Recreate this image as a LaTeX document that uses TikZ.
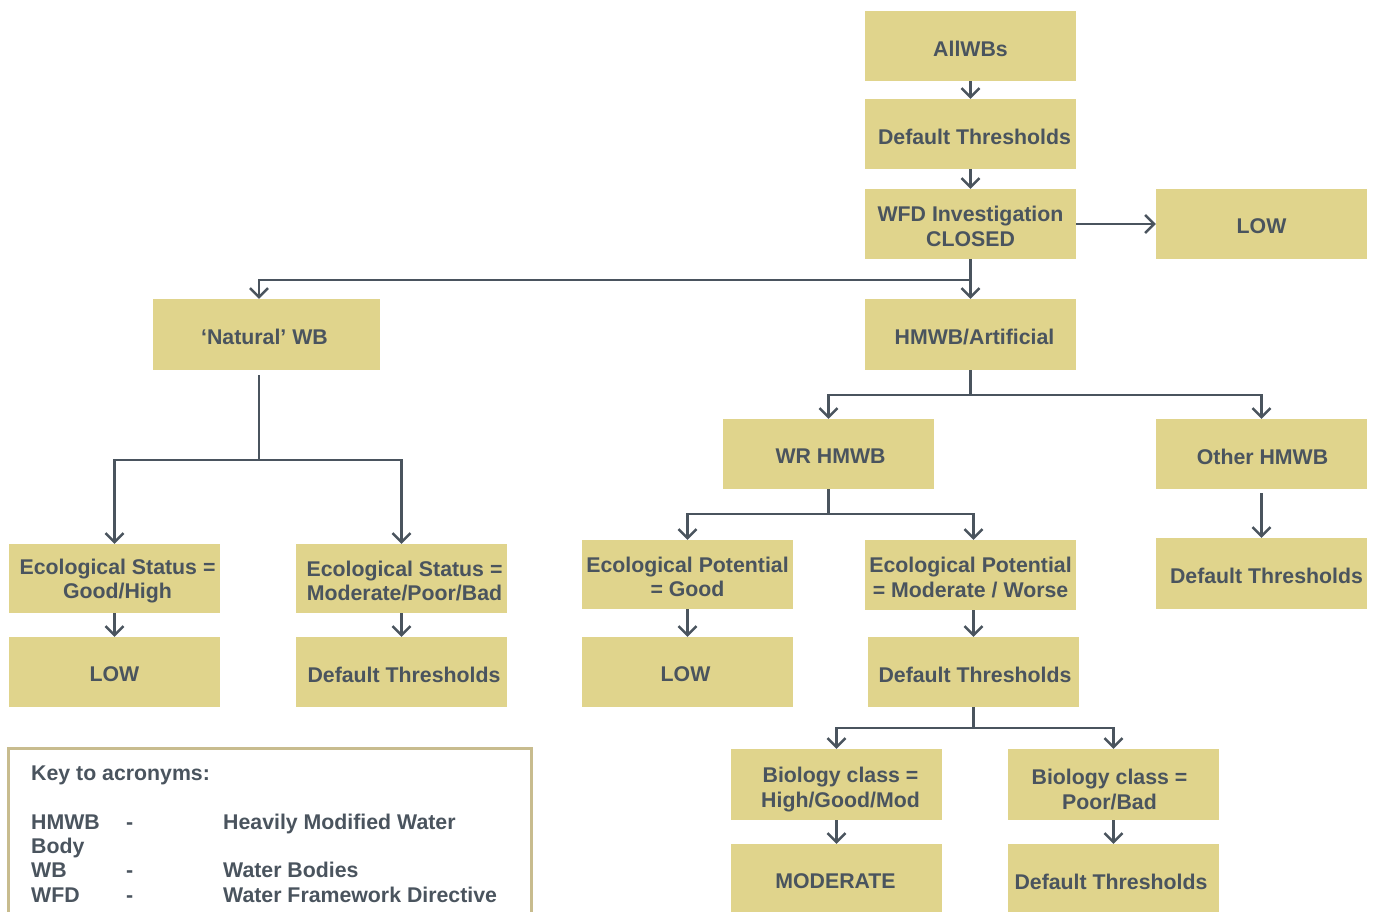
\documentclass[tikz,border=0pt]{standalone}
\usepackage{fontspec}
\setmainfont{Liberation Sans}
\usetikzlibrary{arrows.meta}
\definecolor{boxfill}{RGB}{224,212,140}
\definecolor{ink}{RGB}{74,84,94}
\definecolor{keyline}{RGB}{200,188,142}
\begin{document}
\begin{tikzpicture}[x=1pt,y=-1pt,
  box/.style={fill=boxfill, draw=none, minimum width=211pt, minimum height=70pt, inner sep=0pt},
  bt/.style={inner sep=0pt, align=center, text=ink, yshift=-2.5pt,
    font=\fontsize{21.3}{24.5}\selectfont\bfseries},
  conn/.style={draw=ink, line width=2.5pt},
  arr/.style={conn, -{Straight Barb[length=9pt,width=18pt]}},
  keytext/.style={anchor=base west, inner sep=0pt, text=ink, font=\fontsize{21.3}{24.5}\selectfont\bfseries}
]
\useasboundingbox (0,0) rectangle (1373,911);

% nodes
\node[box, label={[bt]center:AllWBs}] (all) at (970.5,46) {};
\node[box, label={[bt,xshift=4pt]center:Default Thresholds}] (dt1) at (970.5,134) {};
\node[box, label={[bt]center:{WFD Investigation\\CLOSED}}] (wfd) at (970.5,224) {};
\node[box, label={[bt]center:LOW}] (low1) at (1261.5,224) {};
\node[box, minimum width=227pt, minimum height=71pt, label={[bt,xshift=-2pt]center:‘Natural’ WB}] (nat) at (266.5,334.5) {};
\node[box, minimum height=71pt, label={[bt,xshift=4pt]center:HMWB/Artificial}] (hmwb) at (970.5,334.5) {};
\node[box, label={[bt,xshift=2pt]center:WR HMWB}] (wr) at (828.5,454) {};
\node[box, label={[bt,xshift=1pt]center:Other HMWB}] (other) at (1261.5,454) {};
\node[box, minimum height=69pt, label={[bt,xshift=3pt]center:{Ecological Status =\\Good/High}}] (esg) at (114.5,578.5) {};
\node[box, minimum height=69pt, label={[bt,xshift=3pt]center:{Ecological Status =\\Moderate/Poor/Bad}}] (esm) at (401.5,578.5) {};
\node[box, minimum height=69pt, label={[bt]center:{Ecological Potential\\= Good}}] (epg) at (687.5,574.5) {};
\node[box, label={[bt]center:{Ecological Potential\\= Moderate / Worse}}] (epm) at (970.5,575) {};
\node[box, minimum height=71pt, label={[bt,xshift=5pt]center:Default Thresholds}] (dt2) at (1261.5,573.5) {};
\node[box, label={[bt]center:LOW}] (low2) at (114.5,672) {};
\node[box, label={[bt,xshift=2.5pt]center:Default Thresholds}] (dt3) at (401.5,672) {};
\node[box, label={[bt,xshift=-2pt]center:LOW}] (low3) at (687.5,672) {};
\node[box, label={[bt,xshift=1.5pt]center:Default Thresholds}] (dt4) at (973.5,672) {};
\node[box, minimum height=71pt, label={[bt,xshift=4pt,yshift=-2.5pt]center:{Biology class =\\High/Good/Mod}}] (bhg) at (836.5,784.5) {};
\node[box, minimum height=71pt, label={[bt,xshift=-4pt,yshift=-2.5pt]center:{Biology class =\\Poor/Bad}}] (bpb) at (1113.5,784.5) {};
\node[box, label={[bt,xshift=-1pt]center:MODERATE}] (mod) at (836.5,879) {};
\node[box, label={[bt,xshift=-2.5pt]center:Default Thresholds}] (dt5) at (1113.5,879) {};

% connectors
\draw[arr] (all) -- (dt1);
\draw[arr] (dt1) -- (wfd);
\draw[arr] (wfd.east) -- (low1.west);
\coordinate (s1) at (970.5,280);
\draw[conn] (wfd.south) -- (s1);
\draw[arr] (s1) -- (hmwb.north);
\draw[arr] (s1) -| ([xshift=-7.5pt]nat.north);

\coordinate (natb) at (259,375);
\coordinate (s2) at (259,460);
\draw[conn] (natb) -- (s2);
\draw[arr] (s2) -| (esg.north);
\draw[arr] (s2) -| (esm.north);

\coordinate (s3) at (970.5,395);
\draw[conn] (hmwb.south) -- (s3);
\draw[arr] (s3) -| (wr.north);
\draw[arr] (s3) -| (other.north);

\coordinate (s4) at (828.5,514);
\draw[conn] (wr.south) -- (s4);
\draw[arr] (s4) -| (epg.north);
\draw[arr] (s4) -| (epm.north -| dt4.north);

\draw[arr, shorten <=4pt] (other) -- (dt2);
\draw[arr] (esg) -- (low2);
\draw[arr] (esm) -- (dt3);
\draw[arr] (epg) -- (low3);
\draw[arr] (epm.south -| dt4.north) -- (dt4.north);

\coordinate (s5) at (973.5,728);
\draw[conn] (dt4.south) -- (s5);
\draw[arr] (s5) -| (bhg.north);
\draw[arr] (s5) -| (bpb.north);
\draw[arr] (bhg) -- (mod);
\draw[arr] (bpb) -- (dt5);

% key
\draw[draw=keyline, line width=3pt] (8,748) rectangle (531,930);
\node[keytext] (k0) at (31,780) {Key to acronyms:};
\node[keytext] (k1a) at (31,829) {HMWB};
\node[keytext] (k1b) at (126,829) {-};
\node[keytext] (k1c) at (223,829) {Heavily Modified Water};
\node[keytext] (k1d) at (31,853) {Body};
\node[keytext] (k2a) at (31,877) {WB};
\node[keytext] (k2b) at (126,877) {-};
\node[keytext] (k2c) at (223,877) {Water Bodies};
\node[keytext] (k3a) at (31,902) {WFD};
\node[keytext] (k3b) at (126,902) {-};
\node[keytext] (k3c) at (223,902) {Water Framework Directive};
\end{tikzpicture}
\end{document}
